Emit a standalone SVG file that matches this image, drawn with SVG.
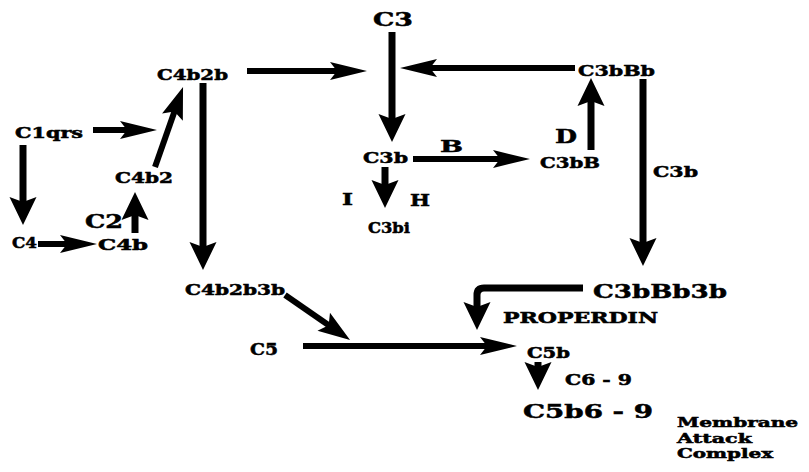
<svg xmlns="http://www.w3.org/2000/svg" width="809" height="472" viewBox="0 0 809 472">
  <style>
    .lbl { font-family: "DejaVu Serif", "Liberation Serif", serif; font-weight: bold; fill: #000; stroke: #000; stroke-width: 0.5; font-size: 15px; }
    .big { font-size: 19px; }
    .mid { font-size: 17px; }
    .sm { font-size: 14px; }
    .xs { font-size: 12.5px; }
    .h { fill: none; stroke: #000; stroke-width: 6; }
    .v { fill: none; stroke: #000; stroke-width: 7; }
  </style>
  <defs>
    <!-- long narrow head for horizontal flows -->
    <marker id="headA" markerUnits="userSpaceOnUse" viewBox="-40 -12 42 24" markerWidth="42" markerHeight="24" refX="-14" refY="0" orient="auto" overflow="visible">
      <path d="M0,0 L-37,-9 L-30,0 L-37,9 Z" fill="#000"/>
    </marker>
    <!-- broad head for vertical flows -->
    <marker id="headB" markerUnits="userSpaceOnUse" viewBox="-32 -16 34 32" markerWidth="34" markerHeight="32" refX="-10" refY="0" orient="auto" overflow="visible">
      <path d="M0,0 L-28,-13.5 L-23,0 L-28,13.5 Z" fill="#000"/>
    </marker>
    <!-- head for slanted flows -->
    <marker id="headC" markerUnits="userSpaceOnUse" viewBox="-36 -14 38 28" markerWidth="38" markerHeight="28" refX="-11" refY="0" orient="auto" overflow="visible">
      <path d="M0,0 L-32,-11 L-26,0 L-32,11 Z" fill="#000"/>
    </marker>
  </defs>

  <rect x="0" y="0" width="809" height="472" fill="#fff"/>

  <g id="connectors">
    <path class="h" d="M93,130 H143" marker-end="url(#headA)"/>
    <path class="h" d="M155,167 L179.4,97.4" marker-end="url(#headC)"/>
    <path class="v" d="M23,145 V215" marker-end="url(#headB)"/>
    <path class="h" d="M38,244 H83" marker-end="url(#headA)"/>
    <path class="v" d="M135,233 V202" marker-end="url(#headB)"/>
    <path class="v" d="M203,83 V260" marker-end="url(#headB)"/>
    <path class="h" d="M247,71 H353" marker-end="url(#headA)"/>
    <path class="h" d="M575,68 H414" marker-end="url(#headA)"/>
    <path class="v" d="M392,32 V132" marker-end="url(#headB)"/>
    <path class="h" d="M413,159 H516" marker-end="url(#headA)"/>
    <path class="v" d="M385,167 V198" marker-end="url(#headB)"/>
    <path class="v" d="M591,150 V88" marker-end="url(#headB)"/>
    <path class="v" d="M643,79 V256" marker-end="url(#headB)"/>
    <path class="h" d="M285,295 L341,333.7" marker-end="url(#headC)"/>
    <path class="h" d="M303,346 H503" marker-end="url(#headA)"/>
    <path class="v" d="M583,288 H484 Q477,288 477,295 V320" marker-end="url(#headB)"/>
    <path class="v" d="M538,362 V380" marker-end="url(#headB)"/>
  </g>

  <g id="n-c3"><text class="lbl big" x="373" y="26" textLength="40" lengthAdjust="spacingAndGlyphs">C3</text></g>
  <g id="n-c4b2b"><text class="lbl" x="157" y="80" textLength="71" lengthAdjust="spacingAndGlyphs">C4b2b</text></g>
  <g id="n-c3bbb"><text class="lbl" x="578" y="76" textLength="77" lengthAdjust="spacingAndGlyphs">C3bBb</text></g>
  <g id="n-c1qrs"><text class="lbl sm" x="15" y="138" textLength="68" lengthAdjust="spacingAndGlyphs">C1qrs</text></g>
  <g id="n-c3b"><text class="lbl" x="363" y="163" textLength="45" lengthAdjust="spacingAndGlyphs">C3b</text></g>
  <g id="n-b"><text class="lbl mid" x="440" y="152" textLength="23" lengthAdjust="spacingAndGlyphs">B</text></g>
  <g id="n-d"><text class="lbl big" x="555" y="143" textLength="22" lengthAdjust="spacingAndGlyphs">D</text></g>
  <g id="n-c3bb"><text class="lbl" x="540" y="168" textLength="60" lengthAdjust="spacingAndGlyphs">C3bB</text></g>
  <g id="n-c4b2"><text class="lbl" x="115" y="183" textLength="58" lengthAdjust="spacingAndGlyphs">C4b2</text></g>
  <g id="n-i"><text class="lbl mid" x="342" y="205" textLength="11" lengthAdjust="spacingAndGlyphs">I</text></g>
  <g id="n-h"><text class="lbl mid" x="410" y="206" textLength="20" lengthAdjust="spacingAndGlyphs">H</text></g>
  <g id="n-c3b-side"><text class="lbl" x="653" y="177" textLength="45" lengthAdjust="spacingAndGlyphs">C3b</text></g>
  <g id="n-c3bi"><text class="lbl" x="368" y="233" textLength="42" lengthAdjust="spacingAndGlyphs">C3bi</text></g>
  <g id="n-c2"><text class="lbl big" x="85" y="228" textLength="38" lengthAdjust="spacingAndGlyphs">C2</text></g>
  <g id="n-c4"><text class="lbl sm" x="12" y="248" textLength="25" lengthAdjust="spacingAndGlyphs">C4</text></g>
  <g id="n-c4b"><text class="lbl sm" x="98" y="250" textLength="50" lengthAdjust="spacingAndGlyphs">C4b</text></g>
  <g id="n-c4b2b3b"><text class="lbl sm" x="185" y="295" textLength="100" lengthAdjust="spacingAndGlyphs">C4b2b3b</text></g>
  <g id="n-c3bbb3b"><text class="lbl big" x="593" y="298" textLength="134" lengthAdjust="spacingAndGlyphs">C3bBb3b</text></g>
  <g id="n-properdin"><text class="lbl sm" x="503" y="323" textLength="155" lengthAdjust="spacingAndGlyphs">PROPERDIN</text></g>
  <g id="n-c5"><text class="lbl mid" x="250" y="355" textLength="28" lengthAdjust="spacingAndGlyphs">C5</text></g>
  <g id="n-c5b"><text class="lbl sm" x="527" y="358" textLength="43" lengthAdjust="spacingAndGlyphs">C5b</text></g>
  <g id="n-c6-9"><text class="lbl sm" x="565" y="385" textLength="67" lengthAdjust="spacingAndGlyphs">C6 - 9</text></g>
  <g id="n-c5b6-9"><text class="lbl big" x="523" y="418" textLength="130" lengthAdjust="spacingAndGlyphs">C5b6 - 9</text></g>
  <g id="n-mac">
    <text class="lbl xs" x="677" y="427" textLength="121" lengthAdjust="spacingAndGlyphs">Membrane</text>
    <text class="lbl xs" x="677" y="443" textLength="75" lengthAdjust="spacingAndGlyphs">Attack</text>
    <text class="lbl xs" x="677" y="458" textLength="96" lengthAdjust="spacingAndGlyphs">Complex</text>
  </g>
</svg>
